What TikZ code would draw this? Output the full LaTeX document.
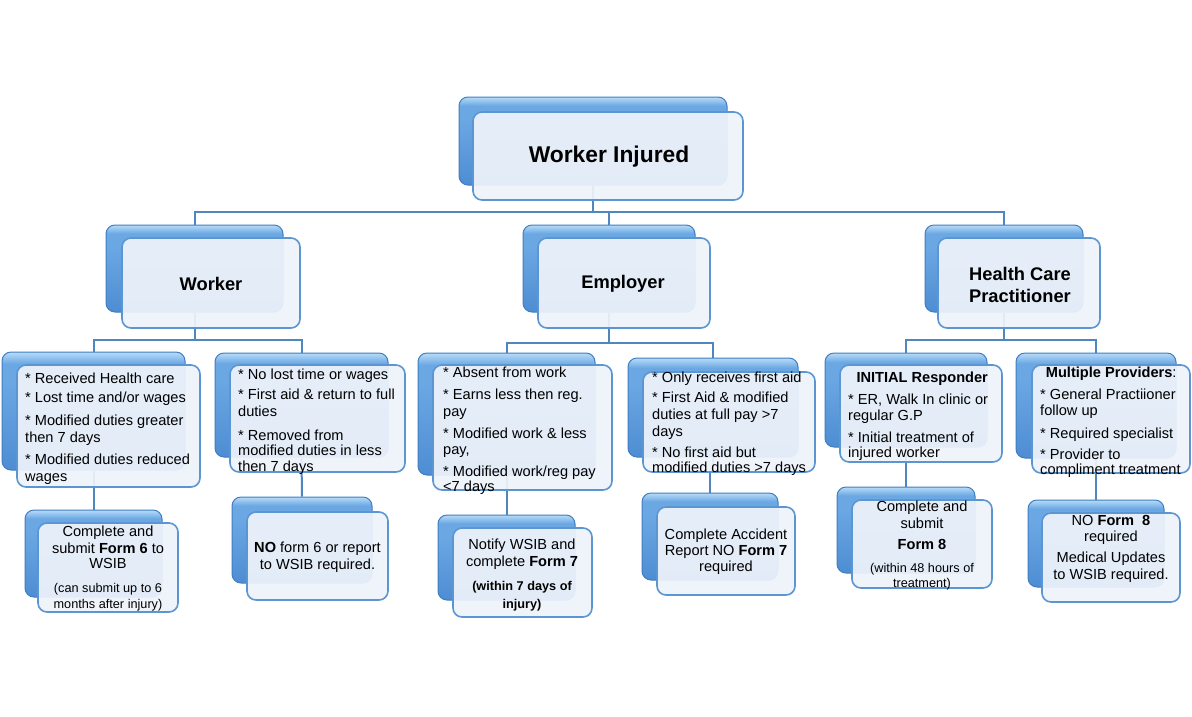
\documentclass[tikz,border=0pt]{standalone}
\usepackage{fontspec}
\setmainfont{Liberation Sans}
\usetikzlibrary{backgrounds}
\definecolor{boxdark}{HTML}{4E8DD3}
\definecolor{boxblue}{HTML}{6AA7E3}
\definecolor{boxlight}{HTML}{B8DCF8}
\definecolor{boxedge}{HTML}{3F7EC2}
\definecolor{paleface}{HTML}{EEF3FA}
\definecolor{faceedge}{HTML}{5C96D2}
\definecolor{linkblue}{HTML}{4F86BF}
\pgfdeclareverticalshading{backshade}{100bp}{color(0bp)=(boxdark); color(25bp)=(boxdark);
  color(62bp)=(boxblue); color(70bp)=(boxblue); color(75bp)=(boxlight); color(100bp)=(boxlight)}
\newcommand{\notesize}{\fontsize{12.7}{13.5}\selectfont}
\begin{document}
\begin{tikzpicture}[x=1pt,y=-1pt,
    backbox/.style ={rectangle, rounded corners=9pt, draw=boxedge, line width=1pt,
                     shading=backshade, inner sep=0pt},
    frontbox/.style={rectangle, rounded corners=9pt, draw=faceedge, line width=1.6pt,
                     fill=paleface, fill opacity=0.93, inner sep=0pt},
    bodytext/.style={inner sep=0pt, align=left, anchor=north west,
                     font=\fontsize{14.6}{17}\selectfont},
    boxtext/.style ={inner sep=0pt, align=center,
                     font=\fontsize{14.6}{17}\selectfont},
    headtext/.style={inner sep=0pt, align=center,
                     font=\bfseries\fontsize{18.3}{22}\selectfont},
    link/.style    ={draw=linkblue, line width=2pt}]
   \begin{scope}[on background layer]
   \path[use as bounding box, fill=white] (0,0) rectangle (1192,716);
   \end{scope}

   % top
   \node[backbox, minimum width=268, minimum height=88] (injuredB) at (593,141) {};
   \node[frontbox, minimum width=270, minimum height=88] (injured) at (608,156) {};
   \node[headtext, font=\bfseries\fontsize{22.8}{26}\selectfont] (injuredT) at (609,157) {Worker Injured};

   % second row
   \node[backbox, minimum width=177, minimum height=87] (workerB) at (194.5,268.5) {};
   \node[frontbox, minimum width=178, minimum height=90] (worker) at (211,283) {};
   \node[headtext] (workerT) at (211,284) {Worker};

   \node[backbox, minimum width=172, minimum height=87] (employerB) at (609,268.5) {};
   \node[frontbox, minimum width=172, minimum height=90] (employer) at (624,283) {};
   \node[headtext] (employerT) at (623,284) {Employer};

   \node[backbox, minimum width=158, minimum height=87] (hcpB) at (1004,268.5) {};
   \node[frontbox, minimum width=162, minimum height=90] (hcp) at (1019,283) {};
   \node[headtext] (hcpT) at (1020,285) {Health Care\\Practitioner};

   % third row
   \node[backbox, minimum width=183, minimum height=118] (wAB) at (93.5,411) {};
   \node[frontbox, minimum width=183, minimum height=122] (wA) at (108.5,426) {};
   \node[bodytext] (wAT) at (25,373) {* Received Health care\\[2pt]
      * Lost time and/or wages\\[6pt] * Modified duties greater\\ then 7 days\\[5pt]
      * Modified duties reduced\\ wages};

   \node[backbox, minimum width=173, minimum height=104] (wBB) at (301.5,405) {};
   \node[frontbox, minimum width=175, minimum height=107] (wB) at (317.5,418.5) {};
   \node[bodytext] (wBT) at (238,369) {* No lost time or wages\\[3pt]
      * First aid \& return to full\\ duties\\[7pt] * Removed from\\[-2pt]
      modified duties in less\\[-1pt] then 7 days};

   \node[backbox, minimum width=177, minimum height=122] (eAB) at (506.5,414) {};
   \node[frontbox, minimum width=179, minimum height=125] (eA) at (522.5,427.5) {};
   \node[bodytext] (eAT) at (443,367) {* Absent from work\\[5pt]
      * Earns less then reg.\\ pay\\[5pt] * Modified work \& less\\[-1pt] pay,\\[5pt]
      * Modified work/reg pay\\[-2pt] <7 days};

   \node[backbox, minimum width=170, minimum height=99] (eBB) at (713,407.5) {};
   \node[frontbox, minimum width=172, minimum height=100] (eB) at (729,422) {};
   \node[bodytext] (eBT) at (652,372) {* Only receives first aid\\[3pt]
      * First Aid \& modified\\ duties at full pay >7\\ days\\[4pt]
      * No first aid but\\[-2pt] modified duties >7 days};

   \node[backbox, minimum width=162, minimum height=94] (hAB) at (906,400) {};
   \node[frontbox, minimum width=162, minimum height=97] (hA) at (921,413.5) {};
   \node[bodytext] (hAT) at (848,372) {\makebox[148pt]{\bfseries INITIAL Responder}\\[5pt]
      * ER, Walk In clinic or\\[-1pt] regular G.P\\[5pt] * Initial treatment of\\[-2pt]
      injured worker};

   \node[backbox, minimum width=160, minimum height=105] (hBB) at (1096,405.5) {};
   \node[frontbox, minimum width=158, minimum height=108] (hB) at (1111,419) {};
   \node[bodytext] (hBT) at (1040,367) {\makebox[142pt]{\textbf{Multiple Providers}:}\\[5pt]
      * General Practiioner\\[-1pt] follow up\\[6pt] * Required specialist\\[4pt]
      * Provider to\\[-2pt] compliment treatment};

   % fourth row
   \node[backbox, minimum width=137, minimum height=87] (fAB) at (93.5,553.5) {};
   \node[frontbox, minimum width=140, minimum height=89] (fA) at (108,567.5) {};
   \node[boxtext] (fAT) at (108,569) {Complete and\\ submit \textbf{Form 6} to\\[-2pt] WSIB\\[7pt]
      \notesize (can submit up to 6\\[-1pt] \notesize months after injury)};

   \node[backbox, minimum width=140, minimum height=86] (fBB) at (302,540) {};
   \node[frontbox, minimum width=141, minimum height=88] (fB) at (317.5,556) {};
   \node[boxtext] (fBT) at (317.5,557) {\textbf{NO} form 6 or report\\ to WSIB required.};

   \node[backbox, minimum width=137, minimum height=85] (fCB) at (506.5,557.5) {};
   \node[frontbox, minimum width=139, minimum height=89] (fC) at (522.5,572.5) {};
   \node[boxtext] (fCT) at (522,575) {Notify WSIB and\\ complete \textbf{Form 7}\\[7pt]
      \notesize\bfseries (within 7 days of\\[1pt] \notesize\bfseries injury)};

   \node[backbox, minimum width=136, minimum height=87] (fDB) at (710,536.5) {};
   \node[frontbox, minimum width=138, minimum height=88] (fD) at (726,551) {};
   \node[boxtext] (fDT) at (726,552) {Complete Accident\\[-1pt] Report NO \textbf{Form 7}\\[-1pt] required};

   \node[backbox, minimum width=138, minimum height=86] (fEB) at (906,530) {};
   \node[frontbox, minimum width=140, minimum height=88] (fE) at (922,544) {};
   \node[boxtext] (fET) at (922,546) {Complete and\\ submit\\[4pt] \textbf{Form 8}\\[6pt]
      \notesize (within 48 hours of\\[-2pt] \notesize treatment)};

   \node[backbox, minimum width=136, minimum height=87] (fFB) at (1096,543.5) {};
   \node[frontbox, minimum width=138, minimum height=89] (fF) at (1111,557.5) {};
   \node[boxtext] (fFT) at (1111,549) {NO \textbf{Form\ \ 8}\\[-1pt] required\\[4pt]
      Medical Updates\\ to WSIB required.};

   % connectors
   \begin{scope}[on background layer]
   \coordinate (busTop) at (593,212);
   \coordinate (busWorker) at (194.5,340);
   \coordinate (busEmployer) at (609,343);
   \coordinate (busHcp) at (1004,340);
   \draw[link] (injuredB.south) -- (busTop);
   \draw[link] (busTop) -| (workerB.north);
   \draw[link] (busTop) -| (employerB.north);
   \draw[link] (busTop) -| (hcpB.north);

   \draw[link] (workerB.south) -- (busWorker);
   \draw[link] (busWorker) -| (wAB.north);
   \draw[link] (busWorker) -| (wBB.north);
   \draw[link] (employerB.south) -- (busEmployer);
   \draw[link] (busEmployer) -| (eAB.north);
   \draw[link] (busEmployer) -| (eBB.north);
   \draw[link] (hcpB.south) -- (busHcp);
   \draw[link] (busHcp) -| (hAB.north);
   \draw[link] (busHcp) -| (hBB.north);

   \draw[link] (wAB.south) -- (fAB.north);
   \draw[link] (wBB.south) -- (fBB.north);
   \draw[link] (eAB.south) -- (fCB.north);
   \draw[link] (eBB.south) -- ++(0,14) -| (fDB.north);
   \draw[link] (hAB.south) -- (fEB.north);
   \draw[link] (hBB.south) -- (fFB.north);
   \end{scope}
 \end{tikzpicture}
\end{document}
